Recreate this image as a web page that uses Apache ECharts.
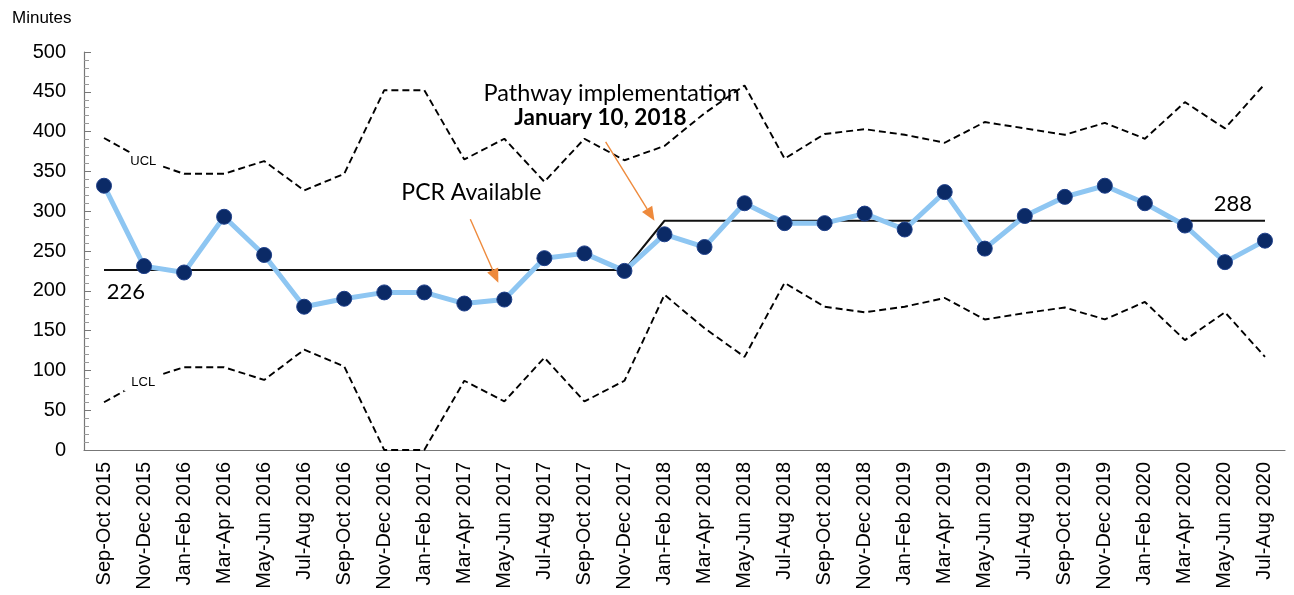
<!DOCTYPE html>
<html>
<head>
<meta charset="utf-8">
<script src="https://cdn.jsdelivr.net/npm/echarts@6/dist/echarts.min.js"></script>
<style>
  html, body { margin: 0; padding: 0; background: #fff; }
  #chart { width: 1294px; height: 595px; }
</style>
</head>
<body>
<div id="chart"></div>
<script>
// bimonthly periods
var periods = ["Sep-Oct 2015", "Nov-Dec 2015", "Jan-Feb 2016", "Mar-Apr 2016", "May-Jun 2016", "Jul-Aug 2016",
  "Sep-Oct 2016", "Nov-Dec 2016", "Jan-Feb 2017", "Mar-Apr 2017", "May-Jun 2017", "Jul-Aug 2017",
  "Sep-Oct 2017", "Nov-Dec 2017", "Jan-Feb 2018", "Mar-Apr 2018", "May-Jun 2018", "Jul-Aug 2018",
  "Sep-Oct 2018", "Nov-Dec 2018", "Jan-Feb 2019", "Mar-Apr 2019", "May-Jun 2019", "Jul-Aug 2019",
  "Sep-Oct 2019", "Nov-Dec 2019", "Jan-Feb 2020", "Mar-Apr 2020", "May-Jun 2020", "Jul-Aug 2020"];

var minutes = [332, 231, 223, 293, 245, 180, 190, 198, 198, 184, 189, 241, 247, 225, 271,
  255, 310, 285, 285, 297, 277, 324, 253, 294, 318, 332, 310, 282, 236, 263];

var centerLine = [226, 226, 226, 226, 226, 226, 226, 226, 226, 226, 226, 226, 226, 226,
  288, 288, 288, 288, 288, 288, 288, 288, 288, 288, 288, 288, 288, 288, 288, 288];

var ucl = [392, 364, 347, 347, 363, 326, 347, 452, 452, 365, 391, 337, 391, 364, 382,
  423, 458, 366, 397, 403, 396, 386, 412, 404, 396, 411, 391, 437, 404, 460];

var lcl = [60, 88, 104, 104, 88, 126, 105, 0, 0, 87, 61, 116, 61, 87, 195,
  153, 117, 210, 180, 173, 180, 191, 164, 172, 179, 164, 186, 138, 173, 117];

// annotation anchors: [category position, value]
var pcrArrow = [[9.15, 290], [9.85, 210]];
var pathwayArrow = [[12.53, 387], [13.75, 288]];

var chart = echarts.init(document.getElementById("chart"));
var axisFont = "'Liberation Sans', Arial, sans-serif";
var noteFont = "Lato, 'Noto Sans', sans-serif";

var dashed = {
  type: "line",
  symbol: "none",
  silent: true,
  z: 1,
  lineStyle: { color: "#000", width: 1.9, type: [7, 4] }
};

chart.setOption({
  animation: false,
  grid: { left: 84, right: 9, top: 52, bottom: 145 },
  xAxis: {
    type: "category",
    data: periods,
    boundaryGap: true,
    axisLine: { lineStyle: { color: "#777", width: 1.2 } },
    axisTick: { alignWithLabel: false, length: 5, lineStyle: { color: "#777" } },
    axisLabel: {
      rotate: 90,
      interval: 0,
      margin: 12,
      color: "#000",
      fontFamily: axisFont,
      fontSize: 20
    }
  },
  yAxis: {
    type: "value",
    min: 0,
    max: 500,
    interval: 50,
    splitLine: { show: false },
    axisLine: { show: true, lineStyle: { color: "#777", width: 1.2 } },
    axisTick: { show: true, inside: true, length: 7, lineStyle: { color: "#777" } },
    minorTick: { show: true, splitNumber: 5, length: 5, lineStyle: { color: "#999" } },
    axisLabel: {
      margin: 18,
      color: "#000",
      fontFamily: axisFont,
      fontSize: 20
    }
  },
  series: [
    Object.assign({ name: "UCL", data: ucl }, dashed),
    Object.assign({ name: "LCL", data: lcl }, dashed),
    {
      name: "Center",
      type: "line",
      data: centerLine,
      symbol: "none",
      silent: true,
      z: 2,
      lineStyle: { color: "#111", width: 2 }
    },
    {
      name: "Minutes",
      type: "line",
      data: minutes,
      z: 3,
      symbol: "circle",
      symbolSize: 15,
      lineStyle: { color: "#8EC6F2", width: 5 },
      itemStyle: { color: "#0B2A66", borderColor: "#1E3F8A", borderWidth: 1 }
    }
  ]
});

function px(p) {
  var a = Math.floor(p[0]), b = Math.ceil(p[0]);
  var pa = chart.convertToPixel({ xAxisIndex: 0, yAxisIndex: 0 }, [a, p[1]]);
  var pb = chart.convertToPixel({ xAxisIndex: 0, yAxisIndex: 0 }, [b, p[1]]);
  var t = p[0] - a;
  return [pa[0] + (pb[0] - pa[0]) * t, pa[1]];
}

function note(text, pos, opts) {
  var p = px(pos);
  opts = opts || {};
  return {
    type: "text",
    x: p[0],
    y: p[1],
    z: 10,
    style: {
      text: text,
      fill: "#000",
      font: (opts.weight || "normal") + " " + (opts.size || 23) + "px " + (opts.family || noteFont),
      align: opts.align || "center",
      verticalAlign: "middle"
    }
  };
}

// small limit label that breaks the dashed line
function limitLabel(text, pos) {
  var p = px(pos);
  return [
    {
      type: "rect", z: 9,
      shape: { x: p[0] - 19, y: p[1] - 9, width: 38, height: 18 },
      style: { fill: "#fff" }
    },
    note(text, pos, { size: 13, family: axisFont })
  ];
}

function arrow(seg) {
  var s = px(seg[0]), e = px(seg[1]);
  var dx = e[0] - s[0], dy = e[1] - s[1];
  var len = Math.sqrt(dx * dx + dy * dy);
  var ux = dx / len, uy = dy / len;
  var head = 14, half = 6;
  var bx = e[0] - ux * head, by = e[1] - uy * head;
  return [
    {
      type: "line", z: 9,
      shape: { x1: s[0], y1: s[1], x2: bx, y2: by },
      style: { stroke: "#EE8A3C", lineWidth: 1.4 }
    },
    {
      type: "polygon", z: 9,
      shape: { points: [[e[0], e[1]], [bx - uy * half, by + ux * half], [bx + uy * half, by - ux * half]] },
      style: { fill: "#EE8A3C" }
    }
  ];
}

chart.setOption({
  graphic: [
    {
      type: "text", left: 12, top: 10,
      style: { text: "Minutes", fill: "#000", font: "17px " + axisFont }
    },
    note("226", [0.07, 199], { align: "left", size: 22 }),
    note("288", [28.2, 309], { size: 22 }),
    note("PCR Available", [9.175, 324]),
    note("Pathway implementation", [12.68, 448], { size: 23.5 }),
    note("January 10, 2018", [12.4, 417], { weight: "bold", size: 22.5 })
  ].concat(limitLabel("UCL", [0.98, 362]), limitLabel("LCL", [0.98, 85]),
    arrow(pcrArrow), arrow(pathwayArrow))
});
</script>
</body>
</html>
